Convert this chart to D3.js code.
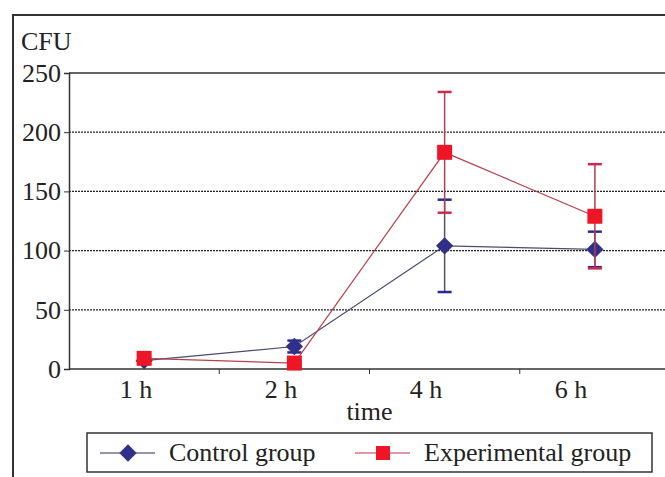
<!DOCTYPE html>
<html>
<head>
<meta charset="utf-8">
<script src="https://cdn.jsdelivr.net/npm/d3@7"></script>
<style>
	body { margin: 0; background: #fff; }
	svg text { font-family: "Liberation Serif", "DejaVu Serif", serif !important; }
</style>
</head>
<body>
<div id="chart"></div>
<script>
// Data
const times = ["1 h", "2 h", "4 h", "6 h"];
const controlMean = [7, 19, 104, 101];
const controlErr = [2, 5, 39, 15];
const experimentalMean = [9, 5, 183, 129];
const experimentalErr = [2, 2, 51, 44];
const yTicks = [0, 50, 100, 150, 200, 250];

const width = 665, height = 477;
const plot = { left: 69, right: 670, top: 73, bottom: 369 };
const fontSize = 26;

const svg = d3.select("#chart")
	.append("svg")
	.attr("width", width)
	.attr("height", height);

// Outer frame
svg.append("rect")
	.attr("x", 13).attr("y", 15)
	.attr("width", 700).attr("height", 500)
	.attr("fill", "none")
	.attr("stroke", "#333")
	.attr("stroke-width", 2);

const x = d3.scaleBand()
	.domain(times)
	.range([plot.left, plot.right]);

// labels sit a little left of the band centres in the original
const xLabel = d3.scalePoint()
	.domain(times)
	.range([136, 571]);

const y = d3.scaleLinear()
	.domain([0, 250])
	.range([plot.bottom, plot.top]);

// Gridlines (dotted)
svg.selectAll("line.grid")
	.data(yTicks.filter(t => t > 0 && t < 250))
	.enter()
	.append("line")
	.attr("class", "grid")
	.attr("x1", plot.left).attr("x2", plot.right)
	.attr("y1", d => y(d)).attr("y2", d => y(d))
	.attr("stroke", "#222")
	.attr("stroke-width", 1.3)
	.attr("stroke-dasharray", "2,1");

// Plot top border
svg.append("line")
	.attr("x1", plot.left).attr("x2", plot.right)
	.attr("y1", y(250)).attr("y2", y(250))
	.attr("stroke", "#333").attr("stroke-width", 1.5);

// Y axis
const yAxis = svg.append("g")
	.attr("transform", `translate(${plot.left},0)`)
	.call(d3.axisLeft(y).tickValues(yTicks).tickSize(5).tickPadding(3));
yAxis.select(".domain").attr("stroke", "#333").attr("stroke-width", 1.5);
yAxis.selectAll(".tick line").attr("stroke", "#333");
yAxis.selectAll("text")
	.attr("font-size", fontSize)
	.attr("fill", "#222");

// X axis: ticks between categories
const xAxis = svg.append("g")
	.attr("transform", `translate(0,${plot.bottom})`);
xAxis.append("line")
	.attr("x1", plot.left).attr("x2", plot.right)
	.attr("stroke", "#333").attr("stroke-width", 1.5);
xAxis.selectAll("line.tick")
	.data(times.slice(1))
	.enter()
	.append("line")
	.attr("class", "tick")
	.attr("x1", d => x(d)).attr("x2", d => x(d))
	.attr("y1", 0).attr("y2", 5)
	.attr("stroke", "#333");
xAxis.selectAll("text")
	.data(times)
	.enter()
	.append("text")
	.attr("x", d => xLabel(d))
	.attr("y", 29)
	.attr("text-anchor", "middle")
	.attr("font-size", fontSize)
	.attr("fill", "#222")
	.text(d => d);

// Axis titles
svg.append("text")
	.attr("x", 21).attr("y", 50)
	.attr("font-size", fontSize)
	.attr("fill", "#222")
	.text("CFU");

svg.append("text")
	.attr("x", (plot.left + plot.right) / 2).attr("y", 420)
	.attr("text-anchor", "middle")
	.attr("font-size", fontSize)
	.attr("fill", "#222")
	.text("time");

const cx = d => x(d) + x.bandwidth() / 2;

function drawSeries(means, errs, lineColor, capColor, stemColor) {
	const pts = times.map((t, i) => ({ t, v: means[i], e: errs[i] }));
	const g = svg.append("g");
	// error bars
	pts.forEach(p => {
		g.append("line")
			.attr("x1", cx(p.t)).attr("x2", cx(p.t))
			.attr("y1", y(p.v - p.e)).attr("y2", y(p.v + p.e))
			.attr("stroke", stemColor).attr("stroke-width", 1.5);
		[p.v - p.e, p.v + p.e].forEach(v => {
			g.append("line")
				.attr("x1", cx(p.t) - 7).attr("x2", cx(p.t) + 7)
				.attr("y1", y(v)).attr("y2", y(v))
				.attr("stroke", capColor).attr("stroke-width", 2.5);
		});
	});
	g.append("path")
		.datum(pts)
		.attr("fill", "none")
		.attr("stroke", lineColor)
		.attr("stroke-width", 1.2)
		.attr("d", d3.line().x(p => cx(p.t)).y(p => y(p.v)));
	return { g, pts };
}

const ctrl = drawSeries(controlMean, controlErr, "#4b4b6e", "#2a2a8c", "#555566");
const exp = drawSeries(experimentalMean, experimentalErr, "#b8404c", "#cc2a4a", "#b04050");

// Markers
const diamond = d3.symbol().type(d3.symbolDiamond2).size(190);
ctrl.g.selectAll("path.marker")
	.data(ctrl.pts)
	.enter()
	.append("path")
	.attr("class", "marker")
	.attr("d", diamond)
	.attr("transform", p => `translate(${cx(p.t)},${y(p.v)})`)
	.attr("fill", "#30308a");

exp.g.selectAll("rect.marker")
	.data(exp.pts)
	.enter()
	.append("rect")
	.attr("class", "marker")
	.attr("x", p => cx(p.t) - 7.5)
	.attr("y", p => y(p.v) - 7.5)
	.attr("width", 15).attr("height", 15)
	.attr("fill", "#ee1526");

// Legend
const legend = svg.append("g");
legend.append("rect")
	.attr("x", 87).attr("y", 433)
	.attr("width", 565).attr("height", 39)
	.attr("fill", "#fff")
	.attr("stroke", "#333").attr("stroke-width", 1.5);

const legendItems = [
	{ name: "Control group", lx: 100, tx: 169, color: "#2a2a5e", kind: "diamond" },
	{ name: "Experimental group", lx: 355, tx: 424, color: "#c8304a", kind: "square" }
];
legendItems.forEach(it => {
	legend.append("line")
		.attr("x1", it.lx).attr("x2", it.lx + 55)
		.attr("y1", 453).attr("y2", 453)
		.attr("stroke", it.color).attr("stroke-width", 1.2);
	if (it.kind === "diamond") {
		legend.append("path")
			.attr("d", diamond)
			.attr("transform", `translate(${it.lx + 28},453)`)
			.attr("fill", "#30308a");
	} else {
		legend.append("rect")
			.attr("x", it.lx + 28 - 7).attr("y", 453 - 7)
			.attr("width", 14).attr("height", 14)
			.attr("fill", "#ee1526");
	}
	legend.append("text")
		.attr("x", it.tx).attr("y", 461)
		.attr("font-size", fontSize)
		.attr("fill", "#222")
		.text(it.name);
});
</script>
</body>
</html>
